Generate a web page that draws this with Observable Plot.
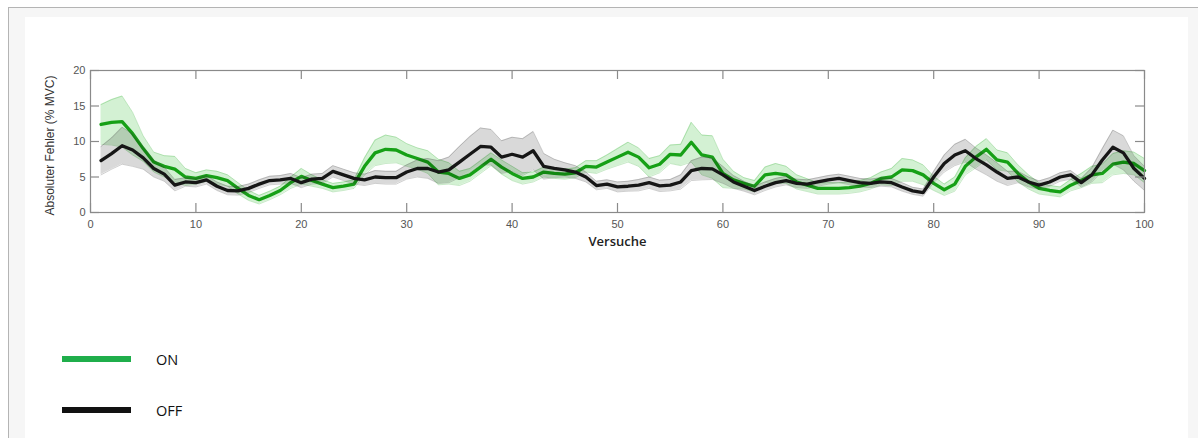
<!DOCTYPE html>
<html>
<head>
<meta charset="utf-8">
<script src="https://cdn.jsdelivr.net/npm/d3@7"></script>
<script src="https://cdn.jsdelivr.net/npm/@observablehq/plot@0.6"></script>
<style>
  html, body { margin: 0; padding: 0; background: #ffffff; width: 1198px; height: 438px; overflow: hidden; }
  #frame { position: absolute; left: 8px; top: 7px; width: 1200px; height: 440px;
           border-left: 1.5px solid #b4b4b4; border-top: 1.5px solid #b4b4b4; background: #f6f6f6; }
  #panel { position: absolute; left: 25px; top: 17px; width: 1163px; height: 430px; background: #ffffff; }
  #chart { position: absolute; left: 0; top: 0; }
  .leg { position: absolute; font-family: "Open Sans", "Noto Sans", sans-serif; font-size: 14.5px; color: #111; }
  .sw { position: absolute; height: 6px; width: 69px; left: 62px; }
</style>
</head>
<body>
<div id="frame"></div>
<div id="panel"></div>
<div id="chart"></div>
<div class="sw" style="top:356px;background:#1fae4b;"></div>
<div class="leg" style="left:156px;top:350px;">ON</div>
<div class="sw" style="top:407px;background:#111111;"></div>
<div class="leg" style="left:156px;top:401px;">OFF</div>
<script>
// Trial numbers
const trials = d3.range(1, 101);

// ON condition: mean and spread (half-width of shaded band)
const onMean = [
  12.4, 12.7, 12.8, 11.1, 9.0, 7.1, 6.5, 6.1, 5.0, 4.8,
  5.2, 4.9, 4.5, 3.4, 2.4, 1.8, 2.4, 3.1, 4.2, 5.1,
  4.5, 4.0, 3.5, 3.7, 4.0, 6.5, 8.4, 8.9, 8.8, 8.1,
  7.6, 7.1, 5.7, 5.5, 4.8, 5.3, 6.4, 7.5, 6.4, 5.5,
  4.8, 5.0, 5.7, 5.5, 5.4, 5.6, 6.5, 6.4, 7.1, 7.8,
  8.5, 7.8, 6.3, 6.8, 8.2, 8.1, 9.9, 8.1, 7.8, 5.5,
  4.6, 4.1, 3.7, 5.3, 5.5, 5.3, 4.3, 3.85, 3.4, 3.4,
  3.4, 3.5, 3.7, 4.1, 4.8, 5.0, 6.0, 5.9, 5.3, 4.1,
  3.2, 4.0, 6.5, 7.8, 8.9, 7.4, 7.1, 5.5, 4.3, 3.4,
  3.1, 2.9, 3.85, 4.5, 5.3, 5.5, 6.8, 7.1, 6.9, 5.9
];
const onSpread = [
  2.8, 3.2, 3.6, 3.0, 1.8, 1.4, 1.5, 1.8, 1.2, 0.8,
  0.8, 0.9, 0.8, 0.8, 0.7, 0.6, 0.6, 0.6, 0.8, 1.1,
  0.8, 0.6, 0.6, 0.6, 0.6, 1.2, 1.8, 2.0, 1.8, 1.6,
  1.5, 1.6, 1.8, 1.5, 1.0, 0.9, 0.9, 0.9, 1.0, 1.0,
  0.8, 0.7, 0.7, 0.7, 0.7, 0.7, 0.8, 0.9, 1.0, 1.2,
  1.4, 1.3, 1.3, 1.2, 1.3, 1.5, 2.8, 2.8, 3.0, 2.0,
  1.2, 0.8, 0.8, 1.1, 1.4, 1.2, 1.0, 0.9, 0.8, 0.8,
  0.8, 0.8, 0.8, 0.8, 0.9, 1.2, 1.6, 1.5, 1.4, 1.0,
  0.8, 1.0, 1.2, 1.5, 1.5, 1.4, 1.3, 1.2, 1.0, 0.8,
  0.7, 0.7, 0.8, 1.0, 1.2, 1.3, 1.5, 1.6, 1.6, 1.7
];

// OFF condition: mean and spread
const offMean = [
  7.3, 8.3, 9.4, 8.8, 7.7, 6.2, 5.4, 3.85, 4.3, 4.2,
  4.6, 3.7, 3.1, 3.05, 3.4, 4.0, 4.5, 4.6, 4.8, 4.2,
  4.7, 4.8, 5.8, 5.3, 4.8, 4.6, 5.0, 4.9, 4.9, 5.7,
  6.2, 6.2, 5.7, 6.0, 7.1, 8.2, 9.3, 9.2, 7.8, 8.2,
  7.8, 8.7, 6.5, 6.2, 6.0, 5.7, 5.0, 3.8, 4.0, 3.6,
  3.7, 3.85, 4.2, 3.75, 3.85, 4.3, 5.9, 6.2, 6.15, 5.3,
  4.3, 3.7, 3.1, 3.7, 4.2, 4.5, 4.1, 4.0, 4.3, 4.6,
  4.8, 4.5, 4.2, 4.1, 4.3, 4.2, 3.6, 3.05, 2.8, 5.0,
  6.9, 8.1, 8.7, 7.6, 6.7, 5.7, 4.8, 5.0, 4.3, 3.85,
  4.3, 5.0, 5.3, 4.2, 5.3, 7.4, 9.2, 8.4, 6.2, 4.8
];
const offSpread = [
  2.0, 2.2, 2.6, 2.3, 1.6, 1.2, 1.0, 0.8, 0.6, 0.6,
  0.6, 0.6, 0.6, 0.6, 0.6, 0.6, 0.6, 0.6, 0.7, 0.7,
  0.7, 0.7, 0.8, 0.8, 0.8, 0.8, 0.9, 0.9, 0.9, 1.0,
  1.2, 1.4, 1.6, 1.8, 2.2, 2.5, 2.6, 2.5, 2.3, 2.4,
  2.6, 2.7, 1.8, 1.3, 1.0, 0.9, 0.7, 0.6, 0.6, 0.7,
  0.7, 0.8, 0.8, 0.8, 0.8, 1.0, 1.4, 1.6, 1.5, 1.2,
  0.9, 0.7, 0.6, 0.6, 0.6, 0.6, 0.6, 0.6, 0.6, 0.6,
  0.6, 0.6, 0.6, 0.6, 0.6, 0.6, 0.6, 0.5, 0.5, 0.8,
  1.2, 1.5, 1.6, 1.5, 1.4, 1.3, 1.0, 0.8, 0.7, 0.6,
  0.6, 0.6, 0.6, 0.6, 1.0, 1.6, 2.4, 2.4, 1.8, 1.7
];

// Axis ticks and labels
const xTicks = [0, 10, 20, 30, 40, 50, 60, 70, 80, 90, 100];
const yTicks = [0, 5, 10, 15, 20];
const xLabel = "Versuche";
const yLabel = "Absoluter Fehler (% MVC)";

const onData = trials.map((t, i) => ({t, m: onMean[i], lo: onMean[i] - onSpread[i], hi: onMean[i] + onSpread[i]}));
const offData = trials.map((t, i) => ({t, m: offMean[i], lo: offMean[i] - offSpread[i], hi: offMean[i] + offSpread[i]}));

const W = 1198, H = 260;
const mL = 90, mR = 54, mT = 70, mB = 48;
const pw = W - mL - mR, ph = H - mT - mB;
const tickLen = 9;
const axisColor = "#8a8a8a";
const onColor = "#16a016";
const offColor = "#161616";

const chart = Plot.plot({
  width: W,
  height: H,
  marginLeft: mL,
  marginRight: mR,
  marginTop: mT,
  marginBottom: mB,
  style: {background: "transparent", fontFamily: "'Liberation Sans', Arial, sans-serif", fontSize: "11px", color: "#5a5a5a", overflow: "visible"},
  x: {domain: [0, 100]},
  y: {domain: [0, 20]},
  marks: [
    // ON band
    Plot.areaY(onData, {x: "t", y1: "lo", y2: "hi", fill: "#35c035", fillOpacity: 0.22}),
    Plot.line(onData, {x: "t", y: "hi", stroke: "#35b035", strokeOpacity: 0.35, strokeWidth: 0.8}),
    Plot.line(onData, {x: "t", y: "lo", stroke: "#35b035", strokeOpacity: 0.35, strokeWidth: 0.8}),
    Plot.line(onData, {x: "t", y: "m", stroke: onColor, strokeWidth: 3.3}),
    // OFF band
    Plot.areaY(offData, {x: "t", y1: "lo", y2: "hi", fill: "#000000", fillOpacity: 0.15}),
    Plot.line(offData, {x: "t", y: "hi", stroke: "#555", strokeOpacity: 0.35, strokeWidth: 0.8}),
    Plot.line(offData, {x: "t", y: "lo", stroke: "#555", strokeOpacity: 0.35, strokeWidth: 0.8}),
    Plot.line(offData, {x: "t", y: "m", stroke: offColor, strokeWidth: 3.3}),
    // box and inward ticks
    Plot.frame({stroke: axisColor, strokeWidth: 1.2}),
    Plot.tickX(xTicks, {x: d => d, stroke: axisColor, strokeWidth: 1.2, insetTop: ph - tickLen}),
    Plot.tickX(xTicks, {x: d => d, stroke: axisColor, strokeWidth: 1.2, insetBottom: ph - tickLen}),
    Plot.tickY(yTicks, {y: d => d, stroke: axisColor, strokeWidth: 1.2, insetRight: pw - tickLen}),
    Plot.tickY(yTicks, {y: d => d, stroke: axisColor, strokeWidth: 1.2, insetLeft: pw - tickLen}),
    // tick labels
    Plot.axisX(xTicks, {anchor: "bottom", tickSize: 0, tickPadding: 8, label: null, fill: "#555"}),
    Plot.axisY(yTicks, {anchor: "left", tickSize: 0, tickPadding: 5, label: null, fill: "#555"}),
    // axis titles
    Plot.text([xLabel], {frameAnchor: "bottom", text: d => d, dy: 33, fill: "#222", fontSize: 13, fontWeight: 600, fontFamily: "'Open Sans', sans-serif"}),
    Plot.text([yLabel], {frameAnchor: "left", textAnchor: "middle", text: d => d, dx: -40, dy: 4, rotate: -90, fill: "#333", fontSize: 12, fontFamily: "'Liberation Sans', Arial, sans-serif"})
  ]
});
document.getElementById("chart").appendChild(chart);
</script>
</body>
</html>
